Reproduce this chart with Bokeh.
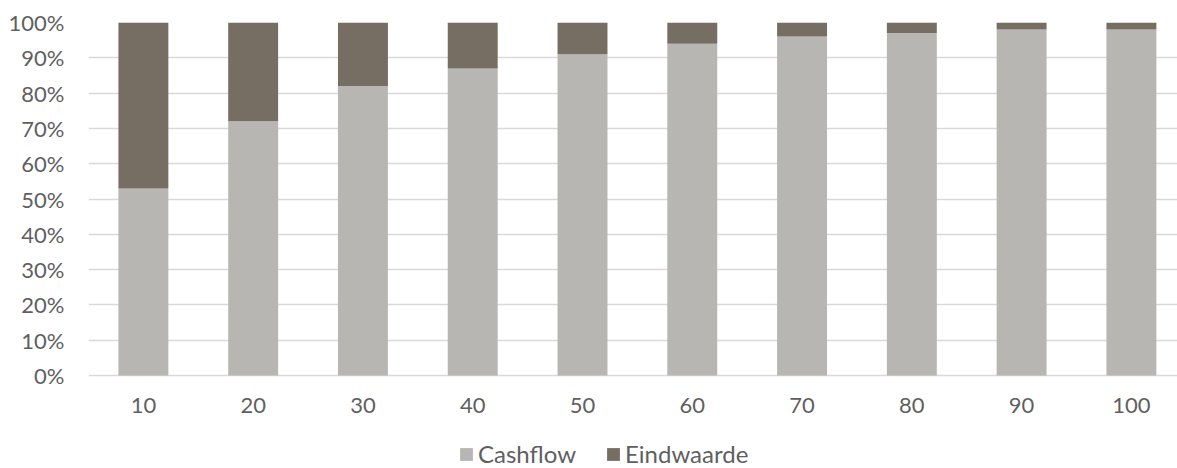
from bokeh.plotting import figure
from bokeh.models import ColumnDataSource, Range1d, FixedTicker, NumeralTickFormatter, Legend, LegendItem
from bokeh.embed import file_html
from bokeh.resources import INLINE

categories = [10, 20, 30, 40, 50, 60, 70, 80, 90, 100]
cashflow = [53, 72, 82, 87, 91, 94, 96, 97, 98, 98]
eindwaarde = [47, 28, 18, 13, 9, 6, 4, 3, 2, 2]
series_names = ["Cashflow", "Eindwaarde"]
colors = ["#B7B6B2", "#766E63"]
y_ticks = [0, 0.1, 0.2, 0.3, 0.4, 0.5, 0.6, 0.7, 0.8, 0.9, 1.0]

FONT = "Lato"
TXT = "#5F5F5F"

src = ColumnDataSource(dict(
    x=categories,
    Cashflow=[v / 100 for v in cashflow],
    Eindwaarde=[v / 100 for v in eindwaarde],
))

p = figure(frame_width=1089, frame_height=446, output_backend="svg", toolbar_location=None,
           x_range=Range1d(5, 104.2), y_range=Range1d(-93 / 353, 1),
           min_border_left=88, min_border_right=0, min_border_top=22, min_border_bottom=0)
p.outline_line_color = None
p.background_fill_color = "white"
p.border_fill_color = "white"

renderers = p.vbar_stack(series_names, x="x", width=4.55, source=src,
                         color=colors, line_color=None)

p.xaxis.ticker = FixedTicker(ticks=categories)
p.xaxis.fixed_location = 0
p.yaxis.ticker = FixedTicker(ticks=y_ticks)
p.yaxis.formatter = NumeralTickFormatter(format="0%")
for ax in (p.xaxis, p.yaxis):
    ax.axis_line_color = None
    ax.major_tick_line_color = None
    ax.minor_tick_line_color = None
    ax.major_tick_out = 0
    ax.major_tick_in = 0
    ax.minor_tick_out = 0
    ax.major_label_text_font = FONT
    ax.major_label_text_font_size = "22px"
    ax.major_label_text_color = TXT
p.xaxis.major_label_standoff = 22
p.yaxis.major_label_standoff = 24
p.xgrid.grid_line_color = None
p.ygrid.grid_line_color = "#D9D9D9"
p.ygrid.grid_line_width = 1.5

legend = Legend(items=[LegendItem(label=n, renderers=[r]) for n, r in zip(series_names, renderers)],
                orientation="horizontal", location=(370, 0),
                label_text_font=FONT, label_text_font_size="24px", label_text_color=TXT,
                glyph_width=16, glyph_height=16, spacing=29, label_standoff=4,
                label_height=16,
                border_line_color=None, background_fill_alpha=0,
                margin=0, padding=0)
p.add_layout(legend, "center")

open("out.html", "w").write(file_html(p, INLINE))
